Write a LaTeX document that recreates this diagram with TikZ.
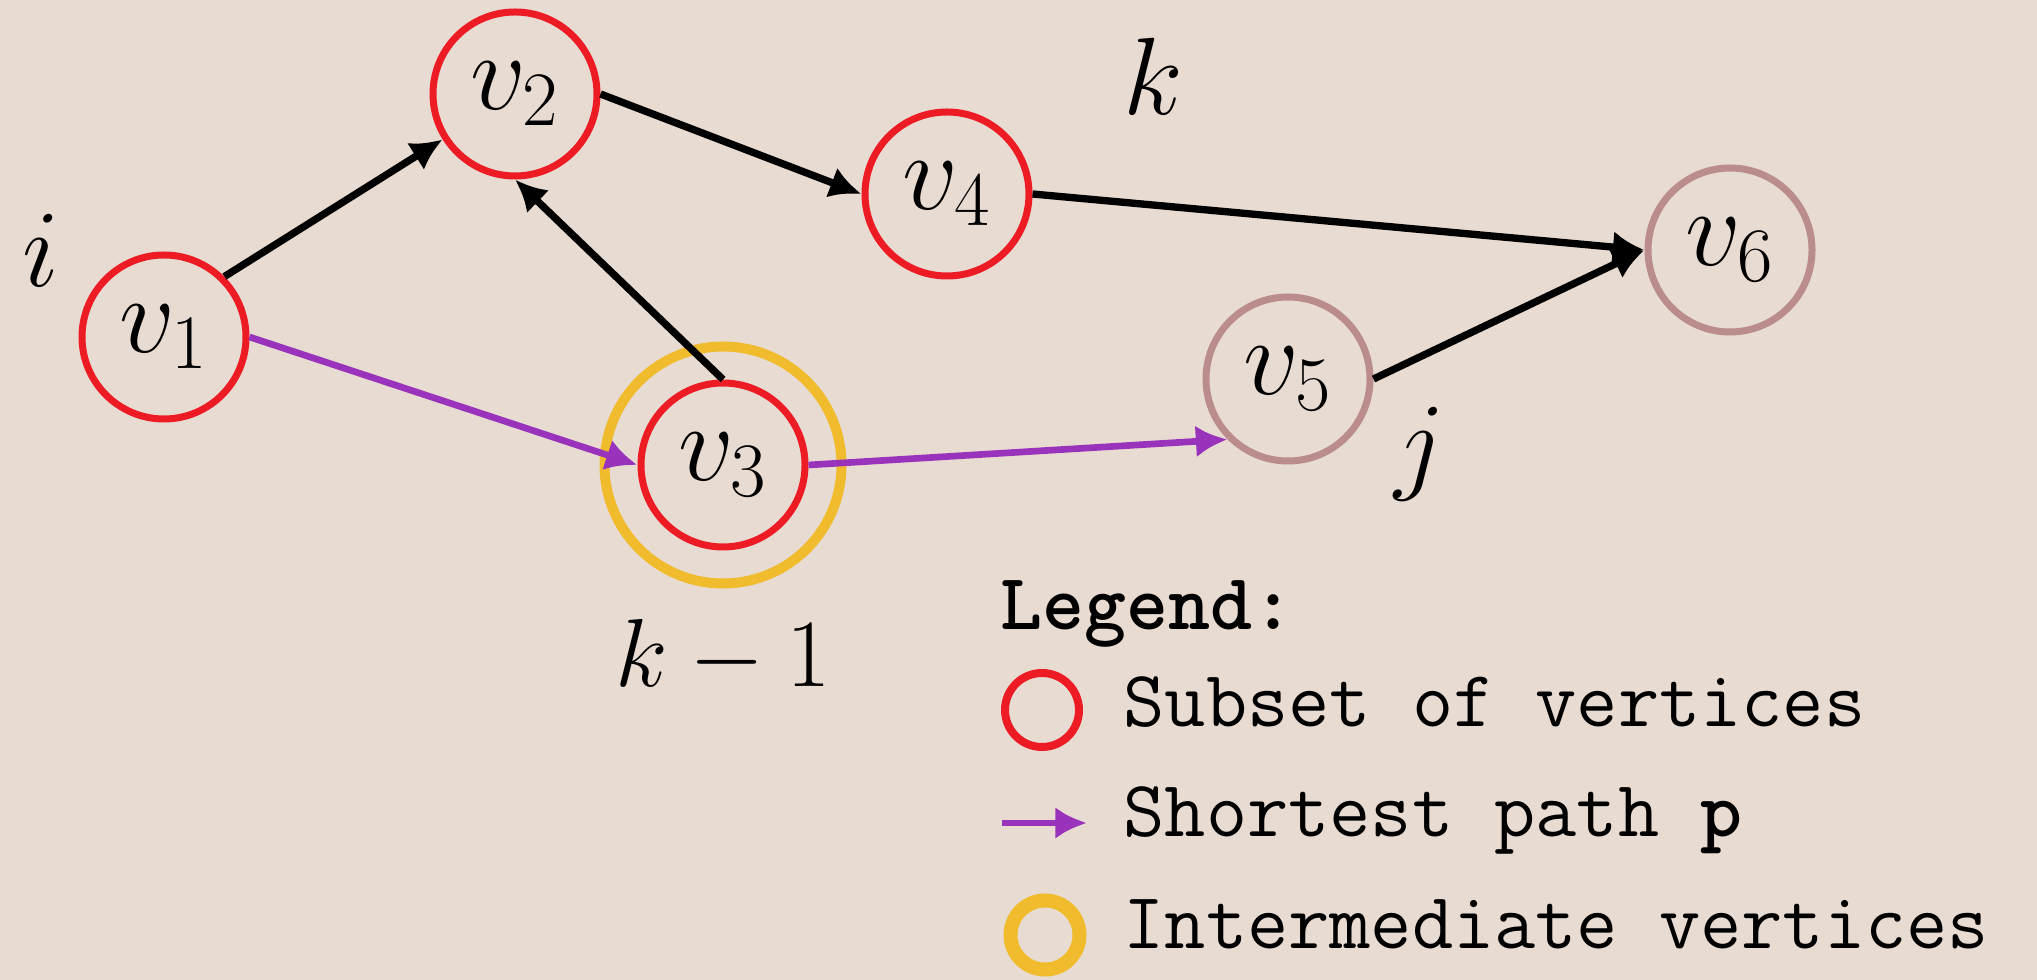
\RequirePackage{fix-cm}
\documentclass[tikz,border=0pt]{standalone}
\usetikzlibrary{arrows.meta}
\definecolor{bg}{RGB}{232,219,210}
\definecolor{vred}{RGB}{237,28,36}
\definecolor{vyel}{RGB}{240,188,46}
\definecolor{vpur}{RGB}{153,51,187}
\definecolor{vrose}{RGB}{186,140,140}
\begin{document}
\begin{tikzpicture}[x=0.3pt,y=-0.3pt,
  vert/.style={circle,draw=#1,line width=2.1pt,minimum size=49.2pt,inner sep=0pt,font=\fontsize{33}{33}\selectfont},
  ring/.style={circle,draw=vyel,line width=3pt,minimum size=71.1pt,inner sep=0pt},
  lbl/.style={inner sep=0pt,anchor=base,font=\fontsize{33}{33}\selectfont},
  edge/.style={line width=2.2pt,-{Latex[length=9.5pt,width=9.5pt]}},
  pedge/.style={edge,line width=2pt,draw=vpur},
  lt/.style={inner sep=0pt,anchor=base west,font=\ttfamily\fontsize{24}{28}\selectfont}]
\fill[bg] (0,0) rectangle (2037,980);
\useasboundingbox (0,0) rectangle (2037,980);
% vertices
\node[vert=vred] (v1) at (164,337) {$v_1$};
\node[vert=vred] (v2) at (515,94) {$v_2$};
\node[ring] (v3o) at (723,465) {};
\node[vert=vred] (v3) at (723,465) {$v_3$};
\node[vert=vred] (v4) at (947,194) {$v_4$};
\node[vert=vrose] (v5) at (1288,379) {$v_5$};
\node[vert=vrose] (v6) at (1730,250) {$v_6$};
% labels
\node[lbl] (li) at (41,287) {$i$};
\node[lbl] (lk) at (1153,115) {$k$};
\node[lbl] (lj) at (1420,480) {$j$};
\node[lbl,font=\fontsize{29}{29}\selectfont] (lkm) at (723,687) {$k-1$};
% edges
\draw[edge] (v1.north east) -- (v2);
\draw[edge] (v2.east) -- (v4.west);
\draw[edge] (v3.north) -- (v2.south);
\draw[edge] (v4.east) -- (v6.west);
\draw[edge] (v5.east) -- (v6.west);
\draw[pedge] (v1.east) -- (v3.west);
\draw[pedge] (v3.east) -- (v5.south west);
% legend
\node[lt,font=\ttfamily\bfseries\fontsize{24}{28}\selectfont] (lg) at (1000,630) {Legend:};
\node[circle,draw=vred,line width=2.4pt,minimum size=22.2pt,inner sep=0pt] (lc1) at (1042,710) {};
\node[lt] (lt1) at (1123,727) {Subset of vertices};
\coordinate (la0) at (1002,823);
\coordinate (la1) at (1087,823);
\draw[pedge] (la0) -- (la1);
\node[lt] (lt2) at (1123,837) {Shortest path \textbf{p}};
\node[circle,draw=vyel,line width=4.2pt,minimum size=20.7pt,inner sep=0pt] (lc2) at (1045,935) {};
\node[lt] (lt3) at (1123,948) {Intermediate vertices};
\end{tikzpicture}
\end{document}
